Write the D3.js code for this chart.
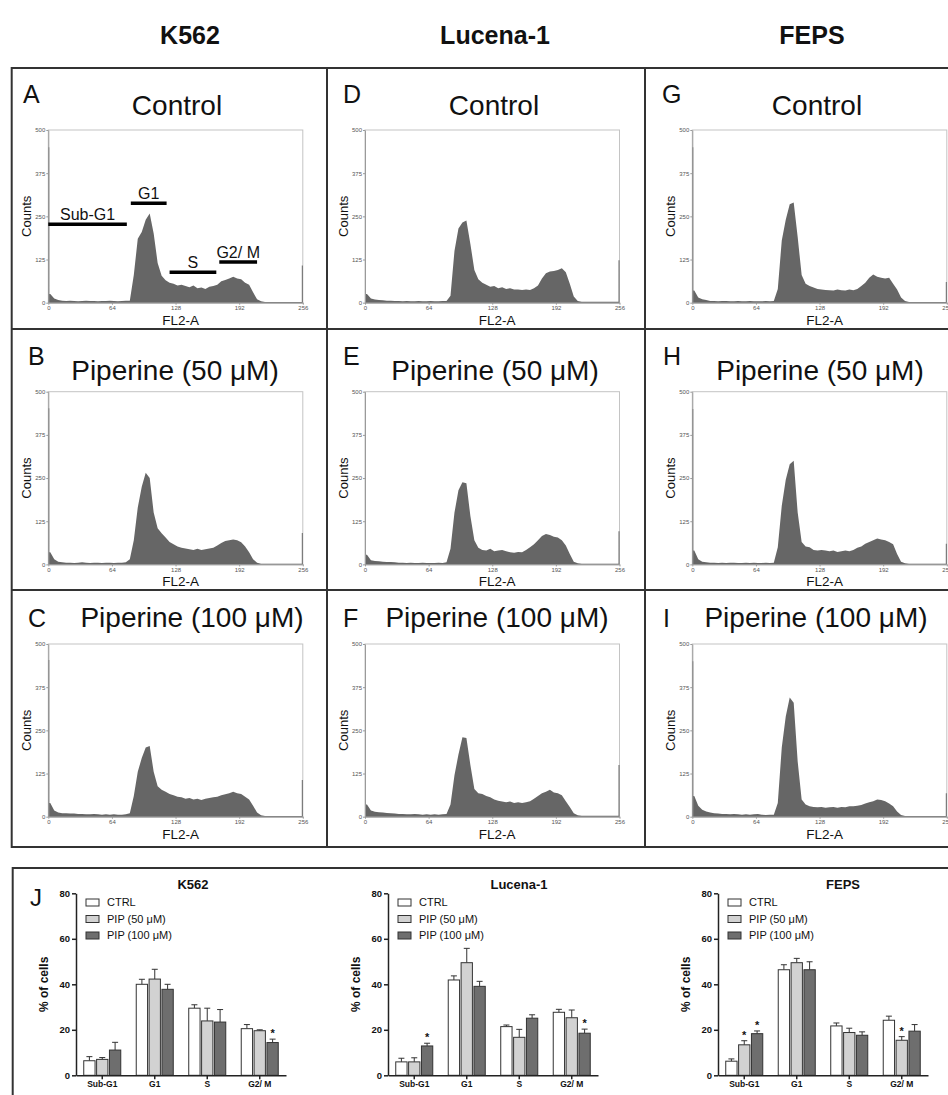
<!DOCTYPE html>
<html>
<head>
<meta charset="utf-8">
<style>
  body { margin:0; background:#fff; font-family:"Liberation Sans", Arial, sans-serif; }
  svg text { fill:#111; }
  .frame line { stroke:#333; stroke-width:2; }
  .hist .axis path, .hist .axis line { stroke:#9a9a9a; }
  .hist .axis text { font-size:6px; fill:#555; font-family:"Liberation Sans", Arial, sans-serif; }
  .hist .box { fill:none; stroke:#c4c4c4; }
  .bars .axis path, .bars .axis line { stroke:#222; stroke-width:1.5; }
  .bars .axis text { font-weight:bold; fill:#111; font-family:"Liberation Sans", Arial, sans-serif; }
</style>
</head>
<body>
<div id="chart"></div>
<script src="https://d3js.org/d3.v7.min.js"></script>
<script>
// ---------- data ----------
var cellLines = ["K562", "Lucena-1", "FEPS"];
var treatments = ["Control", "Piperine (50 μM)", "Piperine (100 μM)"];
var panelLetters = [["A", "B", "C"], ["D", "E", "F"], ["G", "H", "I"]];
var countTicks = [0, 125, 250, 375, 500];
var channelTicks = [0, 64, 128, 192, 256];
var binWidth = 4; // FL2-A channels per value below

// counts per 4-channel bin (64 bins, channels 0-255)
var k562HistControl = [25,12,8,6, 5,6,5,4,5,6,5,5,4,5,5,6,5,4,5,6, 6,
  80,185,205,240,258,200,115,78,65,58,55,50,52,48,45,50,42,44,40,46,48,52,62,66,70,75,70,68,58,52,30,10,4,
  2,2,2,2,2,2,2,2,2,2];
var k562HistPip50 = [35,15,8,6, 5,5,4,5,6,5,4,5,5,4,5,5,4,5,5,6, 15,
  70,165,225,265,250,150,105,90,78,65,58,52,48,46,44,42,45,42,44,46,48,55,62,68,70,72,70,64,52,35,15,5,
  2,2,2,2,2,2,2,2,2,2,2];
var k562HistPip100 = [40,18,12,10, 10,9,9,8,8,7,7,8,7,6,7,6,7,6,6,7, 10,
  60,130,170,200,205,130,88,78,72,66,62,58,56,52,54,50,52,48,52,54,56,58,62,65,68,72,68,66,58,50,32,12,4,
  2,2,2,2,2,2,2,2,2,2];
var lucenaHistControl = [25,12,9,8, 7,6,6,5,5,4,5,4,4,5,4,4,5,4,4,5, 5,
  20,150,215,232,238,170,95,68,58,52,46,48,42,45,40,42,38,38,37,38,37,42,50,70,85,90,92,95,100,88,55,18,5,
  3,3,3,3,3,3,3,3,3,3];
var lucenaHistPip50 = [28,12,10,9, 8,7,7,6,5,5,4,5,4,4,5,4,4,4,5,4, 6,
  45,150,215,238,235,140,70,48,42,40,45,38,40,42,38,35,34,36,35,42,50,58,70,82,88,85,80,78,70,55,30,8,3,
  2,2,2,2,2,2,2,2,2,2];
var lucenaHistPip100 = [35,18,14,13, 12,11,10,9,8,8,7,7,8,7,6,7,6,7,6,7, 8,
  35,120,180,230,228,150,80,68,66,60,56,50,46,44,42,44,40,42,40,42,45,52,60,68,72,78,70,68,62,45,28,10,4,
  3,3,3,3,3,3,3,3,3,3];
var fepsHistControl = [35,15,10,8, 5,5,4,5,5,4,4,5,4,4,5,4,4,4,5,4, 5,
  40,180,240,285,290,190,80,55,48,44,40,38,37,36,35,38,36,35,38,36,40,48,58,72,82,75,72,70,72,55,38,15,5,
  2,2,2,2,2,2,2,2,2,2];
var fepsHistPip50 = [40,15,8,6, 5,5,4,5,4,5,5,4,4,5,4,5,4,4,5,4, 5,
  50,170,245,290,300,150,65,52,50,42,40,42,40,38,40,36,38,40,38,42,48,52,60,65,70,75,72,70,65,58,30,8,3,
  2,2,2,2,2,2,2,2,2,2];
var fepsHistPip100 = [60,32,20,15, 12,10,9,8,8,7,8,7,6,7,6,7,8,6,5,6, 6,
  40,200,290,345,330,160,50,35,30,28,27,28,26,27,28,26,28,27,30,30,32,34,38,42,45,50,48,45,38,30,15,5,2,
  2,2,2,2,2,2,2,2,2,2];

// single-channel spikes at channel 0 and channel 255 (per cell line, per treatment)
var spikeLow = [[450, 452, 454], [450, 450, 450], [450, 450, 450]];
var spikeHigh = [[108, 91, 106], [123, 96, 150], [60, 60, 68]];

// gate markers drawn in panel A (channels and count level)
var gateNames = ["Sub-G1", "G1", "S", "G2/ M"];
var gateFrom = [0, 83, 122, 172];
var gateTo = [79, 119, 169, 210];
var gateLevel = [227, 288, 88, 118];

// % of cells, bar chart J
var phases = ["Sub-G1", "G1", "S", "G2/ M"];
var groups = ["CTRL", "PIP (50 μM)", "PIP (100 μM)"];
var groupColors = ["#ffffff", "#d2d2d2", "#6e6e6e"];

var k562PctCtrl = [6.4, 40.0, 29.5, 20.5],     k562ErrCtrl = [1.8, 2.2, 1.5, 1.8];
var k562PctPip50 = [7.0, 42.3, 23.9, 19.6],    k562ErrPip50 = [0.8, 4.3, 5.6, 0.4];
var k562PctPip100 = [11.1, 37.8, 23.4, 14.4],  k562ErrPip100 = [3.4, 2.2, 5.5, 1.5];
var k562Stars = [[3, 2]];

var lucenaPctCtrl = [5.9, 41.9, 21.4, 27.7],    lucenaErrCtrl = [1.6, 1.8, 0.7, 1.3];
var lucenaPctPip50 = [5.9, 49.5, 16.7, 25.3],   lucenaErrPip50 = [1.8, 6.3, 3.5, 3.4];
var lucenaPctPip100 = [12.9, 39.1, 25.1, 18.5], lucenaErrPip100 = [1.2, 2.2, 1.5, 1.8];
var lucenaStars = [[0, 2], [3, 2]];

var fepsPctCtrl = [6.2, 46.4, 21.7, 24.2],     fepsErrCtrl = [1.0, 2.2, 1.3, 1.8];
var fepsPctPip50 = [13.4, 49.5, 18.8, 15.4],   fepsErrPip50 = [1.8, 1.9, 1.9, 1.6];
var fepsPctPip100 = [18.3, 46.4, 17.6, 19.4],  fepsErrPip100 = [1.2, 3.5, 1.5, 2.9];
var fepsStars = [[0, 1], [0, 2], [3, 1]];
var percentTicks = [0, 20, 40, 60, 80];

// ---------- layout ----------
var width = 948, height = 1095;

var histograms = [
  [k562HistControl, k562HistPip50, k562HistPip100],
  [lucenaHistControl, lucenaHistPip50, lucenaHistPip100],
  [fepsHistControl, fepsHistPip50, fepsHistPip100]
];
var barSets = [
  {means: [k562PctCtrl, k562PctPip50, k562PctPip100], errs: [k562ErrCtrl, k562ErrPip50, k562ErrPip100], stars: k562Stars},
  {means: [lucenaPctCtrl, lucenaPctPip50, lucenaPctPip100], errs: [lucenaErrCtrl, lucenaErrPip50, lucenaErrPip100], stars: lucenaStars},
  {means: [fepsPctCtrl, fepsPctPip50, fepsPctPip100], errs: [fepsErrCtrl, fepsErrPip50, fepsErrPip100], stars: fepsStars}
];

var colLeft = [48.3, 365, 692.3];
var plotW = 254.5;
var rowTop = [130, 391.7, 644];
var plotH = 172.7;
var titleY = [115, 380, 627];
var letterY = [103, 365, 627];
var titleX = [[177, 175, 192], [494, 495, 497], [817, 820, 816]];
var letterX = [[23, 28, 28], [343, 343, 343], [662, 663, 663]];
var headerX = [190, 495, 812];

var svg = d3.select("#chart").append("svg")
  .attr("width", width)
  .attr("height", height);

svg.append("rect").attr("width", width).attr("height", height).attr("fill", "#fff");

// panel frame
var frame = svg.append("g").attr("class", "frame");
[68, 329, 590, 847].forEach(function (yy) {
  frame.append("line").attr("x1", 11).attr("x2", width).attr("y1", yy).attr("y2", yy);
});
[11.7, 327, 645].forEach(function (xx) {
  frame.append("line").attr("x1", xx).attr("x2", xx).attr("y1", 67).attr("y2", 848);
});
frame.append("line").attr("x1", 12).attr("x2", width).attr("y1", 868).attr("y2", 868);
frame.append("line").attr("x1", 12.7).attr("x2", 12.7).attr("y1", 867).attr("y2", height);

// column headers
cellLines.forEach(function (name, c) {
  svg.append("text")
    .attr("x", headerX[c]).attr("y", 44)
    .attr("text-anchor", "middle")
    .style("font-size", "25px").style("font-weight", "bold")
    .text(name);
});

// ---------- histograms ----------
histograms.forEach(function (col, c) {
  col.forEach(function (bins, r) {
    var g = svg.append("g").attr("class", "hist");
    var left = colLeft[c], top = rowTop[r];

    var x = d3.scaleLinear().domain([0, 256]).range([left, left + plotW]);
    var y = d3.scaleLinear().domain([0, 500]).range([top + plotH, top]);

    var last = bins.length - 1;
    var pts = [[0, 0], [0, spikeLow[c][r]], [1, spikeLow[c][r]], [1, bins[0]]]
      .concat(bins.map(function (v, i) { return [i * binWidth + binWidth / 2, v]; }))
      .concat([[255, bins[last]], [255, spikeHigh[c][r]], [256, spikeHigh[c][r]], [256, 0]]);

    var area = d3.area()
      .x(function (d) { return x(d[0]); })
      .y0(y(0))
      .y1(function (d) { return y(d[1]); });

    g.append("rect").attr("class", "box")
      .attr("x", x(0)).attr("y", y(500))
      .attr("width", x(256) - x(0)).attr("height", y(0) - y(500));

    g.append("path").datum(pts)
      .attr("d", area)
      .attr("fill", "#666");

    g.append("g").attr("class", "axis")
      .attr("transform", "translate(" + x(0) + ",0)")
      .call(d3.axisLeft(y).tickValues(countTicks).tickSize(2).tickPadding(1).tickSizeOuter(0));

    g.append("g").attr("class", "axis")
      .attr("transform", "translate(0," + y(0) + ")")
      .call(d3.axisBottom(x).tickValues(channelTicks).tickSize(2).tickPadding(1).tickSizeOuter(0));

    g.append("text")
      .attr("transform", "translate(" + (left - 17) + "," + (top + plotH / 2) + ") rotate(-90)")
      .attr("text-anchor", "middle")
      .style("font-size", "13px")
      .text("Counts");

    g.append("text")
      .attr("x", (x(0) + x(256)) / 2 + 5).attr("y", y(0) + 22)
      .attr("text-anchor", "middle")
      .style("font-size", "13.5px")
      .text("FL2-A");

    g.append("text")
      .attr("x", titleX[c][r]).attr("y", titleY[r])
      .attr("text-anchor", "middle")
      .style("font-size", "28px")
      .text(treatments[r]);

    g.append("text")
      .attr("x", letterX[c][r]).attr("y", letterY[r])
      .style("font-size", "25px")
      .text(panelLetters[c][r]);

    // phase gates on panel A
    if (c === 0 && r === 0) {
      gateNames.forEach(function (name, i) {
        g.append("line")
          .attr("x1", x(gateFrom[i])).attr("x2", x(gateTo[i]))
          .attr("y1", y(gateLevel[i])).attr("y2", y(gateLevel[i]))
          .attr("stroke", "#000").attr("stroke-width", 3.5);
        g.append("text")
          .attr("x", (x(gateFrom[i]) + x(gateTo[i])) / 2)
          .attr("y", y(gateLevel[i]) - 4)
          .attr("text-anchor", "middle")
          .style("font-size", "16px")
          .text(name);
      });
    }
  });
});

// ---------- bar charts (J) ----------
var barLeft = [76, 388, 718];
var barW = 210;
var barBottom = 1075.3, barTop = 893.3;
var barTitleX = [193, 519, 843];

svg.append("text")
  .attr("x", 30).attr("y", 906)
  .style("font-size", "24px")
  .text("J");

barSets.forEach(function (set, c) {
  var g = svg.append("g").attr("class", "bars");
  var left = barLeft[c];

  var x = d3.scaleBand().domain(phases)
    .range([left, left + barW])
    .paddingInner(0.295).paddingOuter(0.1476);
  var xs = d3.scaleBand().domain(groups)
    .range([0, x.bandwidth()])
    .paddingInner(0.12);
  var y = d3.scaleLinear().domain([0, 80]).range([barBottom, barTop]);

  set.means.forEach(function (vals, gi) {
    var series = g.append("g");
    vals.forEach(function (v, pi) {
      var bx = x(phases[pi]) + xs(groups[gi]);
      var cxm = bx + xs.bandwidth() / 2;
      var errTop = y(v + set.errs[gi][pi]);
      series.append("line")
        .attr("x1", cxm).attr("x2", cxm)
        .attr("y1", y(v)).attr("y2", errTop)
        .attr("stroke", "#333").attr("stroke-width", 1);
      series.append("line")
        .attr("x1", cxm - 3).attr("x2", cxm + 3)
        .attr("y1", errTop).attr("y2", errTop)
        .attr("stroke", "#333").attr("stroke-width", 1);
      series.append("rect")
        .attr("x", bx).attr("y", y(v))
        .attr("width", xs.bandwidth()).attr("height", y(0) - y(v))
        .attr("fill", groupColors[gi])
        .attr("stroke", "#333").attr("stroke-width", 1);
    });
  });

  set.stars.forEach(function (s) {
    var pi = s[0], gi = s[1];
    var v = set.means[gi][pi] + set.errs[gi][pi];
    g.append("text")
      .attr("x", x(phases[pi]) + xs(groups[gi]) + xs.bandwidth() / 2)
      .attr("y", y(v) - 2)
      .attr("text-anchor", "middle")
      .style("font-size", "11px").style("font-weight", "bold")
      .text("*");
  });

  g.append("g").attr("class", "axis")
    .attr("transform", "translate(" + left + ",0)")
    .call(d3.axisLeft(y).tickValues(percentTicks).tickSize(4).tickPadding(2).tickSizeOuter(0))
    .selectAll("text").style("font-size", "9.5px");

  g.append("g").attr("class", "axis")
    .attr("transform", "translate(0," + barBottom + ")")
    .call(d3.axisBottom(x).tickSize(4).tickPadding(1.5).tickSizeOuter(0))
    .selectAll("text").style("font-size", "8.5px");

  g.append("text")
    .attr("transform", "translate(" + (left - 28) + "," + ((barTop + barBottom) / 2) + ") rotate(-90)")
    .attr("text-anchor", "middle")
    .style("font-size", "12px").style("font-weight", "bold")
    .text("% of cells");

  g.append("text")
    .attr("x", barTitleX[c]).attr("y", 889)
    .attr("text-anchor", "middle")
    .style("font-size", "13px").style("font-weight", "bold")
    .text(cellLines[c]);

  groups.forEach(function (name, gi) {
    g.append("rect")
      .attr("x", left + 10).attr("y", 899 + gi * 16.5)
      .attr("width", 13).attr("height", 7)
      .attr("fill", groupColors[gi])
      .attr("stroke", "#333").attr("stroke-width", 1);
    g.append("text")
      .attr("x", left + 31).attr("y", 906 + gi * 16.5)
      .style("font-size", "11px")
      .text(name);
  });
});
</script>
</body>
</html>
